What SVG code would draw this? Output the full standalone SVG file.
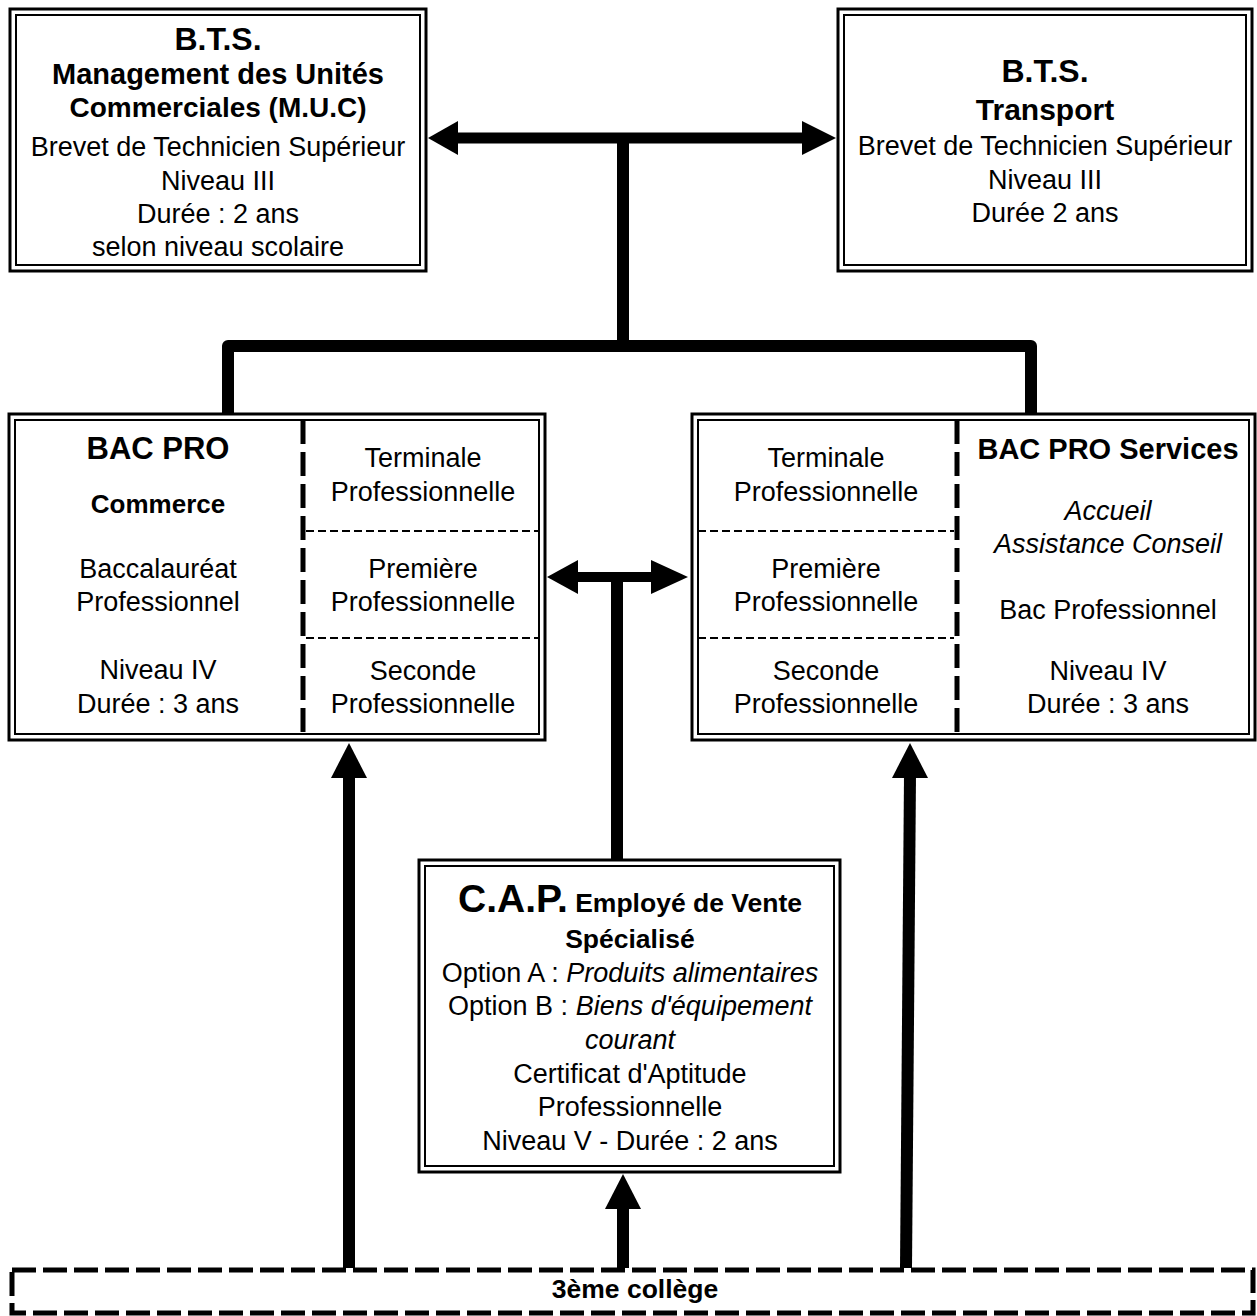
<svg xmlns="http://www.w3.org/2000/svg" width="1257" height="1316" viewBox="0 0 1257 1316">
<style>
text{font-family:"Liberation Sans",Arial,sans-serif;font-size:27px;fill:#000;text-anchor:middle}
.b{font-weight:bold}
.i{font-style:italic}
.t{font-size:30px}
.bts{font-size:32px}
.outer{fill:#fff;stroke:#000;stroke-width:3}
.inner{fill:none;stroke:#000;stroke-width:2}
.vdiv{stroke:#000;stroke-width:5;stroke-dasharray:24 8}
.hdiv{stroke:#000;stroke-width:2;stroke-dasharray:8 4}
.conn{fill:none;stroke:#000;stroke-width:12;stroke-linejoin:round}
.head{fill:#000}
</style>
<rect width="1257" height="1316" fill="#fff"/>

<g id="connectors">
  <line x1="455" y1="138" x2="804" y2="138" stroke="#000" stroke-width="11"/>
  <polygon class="head" points="428,138 458,121 458,155"/>
  <polygon class="head" points="836,138 802,121 802,155"/>
  <path class="conn" d="M623,138 V346"/>
  <path class="conn" d="M228,414 V346 H1031 V414"/>
  <line x1="576" y1="577" x2="653" y2="577" stroke="#000" stroke-width="10"/>
  <polygon class="head" points="547,577 578,560 578,594"/>
  <polygon class="head" points="688,577 651,560 651,594"/>
  <path class="conn" d="M617,577 V860"/>
  <line x1="349" y1="1268" x2="349" y2="775" stroke="#000" stroke-width="12"/>
  <polygon class="head" points="349,743 331,778 367,778"/>
  <line x1="623" y1="1268" x2="623" y2="1206" stroke="#000" stroke-width="12"/>
  <polygon class="head" points="623,1174 605,1209 641,1209"/>
  <line x1="906" y1="1268" x2="910" y2="775" stroke="#000" stroke-width="12"/>
  <polygon class="head" points="910,743 892,778 928,778"/>
</g>

<g id="bts-muc">
  <rect class="outer" x="10" y="9" width="416" height="262"/>
  <rect class="inner" x="16" y="15" width="404" height="250"/>
  <text class="b bts" x="218" y="50">B.T.S.</text>
  <text class="b" x="218" y="84" style="font-size:29px">Management des Unités</text>
  <text class="b" x="218" y="117" style="font-size:28px">Commerciales (M.U.C)</text>
  <text x="218" y="156">Brevet de Technicien Supérieur</text>
  <text x="218" y="190">Niveau III</text>
  <text x="218" y="223">Durée : 2 ans</text>
  <text x="218" y="256">selon niveau scolaire</text>
</g>

<g id="bts-transport">
  <rect class="outer" x="838" y="9" width="414" height="262"/>
  <rect class="inner" x="844" y="15" width="402" height="250"/>
  <text class="b bts" x="1045" y="82">B.T.S.</text>
  <text class="b t" x="1045" y="120">Transport</text>
  <text x="1045" y="155">Brevet de Technicien Supérieur</text>
  <text x="1045" y="189">Niveau III</text>
  <text x="1045" y="222">Durée 2 ans</text>
</g>

<g id="bac-commerce">
  <rect class="outer" x="9" y="414" width="536" height="326"/>
  <rect class="inner" x="15" y="420" width="524" height="314"/>
  <line class="vdiv" x1="303" y1="420" x2="303" y2="734"/>
  <line class="hdiv" x1="306" y1="531" x2="539" y2="531"/>
  <line class="hdiv" x1="306" y1="638" x2="539" y2="638"/>
  <text class="b" x="158" y="459" style="font-size:31px">BAC PRO</text>
  <text class="b" x="158" y="513" style="font-size:26px">Commerce</text>
  <text x="158" y="578">Baccalauréat</text>
  <text x="158" y="611">Professionnel</text>
  <text x="158" y="679">Niveau IV</text>
  <text x="158" y="713">Durée : 3 ans</text>
  <text x="423" y="467">Terminale</text>
  <text x="423" y="501">Professionnelle</text>
  <text x="423" y="578">Première</text>
  <text x="423" y="611">Professionnelle</text>
  <text x="423" y="680">Seconde</text>
  <text x="423" y="713">Professionnelle</text>
</g>

<g id="bac-services">
  <rect class="outer" x="692" y="414" width="563" height="326"/>
  <rect class="inner" x="698" y="420" width="551" height="314"/>
  <line class="vdiv" x1="957" y1="420" x2="957" y2="734"/>
  <line class="hdiv" x1="698" y1="531" x2="954" y2="531"/>
  <line class="hdiv" x1="698" y1="638" x2="954" y2="638"/>
  <text x="826" y="467">Terminale</text>
  <text x="826" y="501">Professionnelle</text>
  <text x="826" y="578">Première</text>
  <text x="826" y="611">Professionnelle</text>
  <text x="826" y="680">Seconde</text>
  <text x="826" y="713">Professionnelle</text>
  <text class="b" x="1108" y="459" style="font-size:29px">BAC PRO Services</text>
  <text class="i" x="1108" y="520">Accueil</text>
  <text class="i" x="1108" y="553">Assistance Conseil</text>
  <text x="1108" y="619">Bac Professionnel</text>
  <text x="1108" y="680">Niveau IV</text>
  <text x="1108" y="713">Durée : 3 ans</text>
</g>

<g id="cap">
  <rect class="outer" x="419" y="860" width="421" height="312"/>
  <rect class="inner" x="425" y="866" width="409" height="300"/>
  <text class="b" x="630" y="912" style="font-size:26.5px"><tspan style="font-size:39px">C.A.P.</tspan> Employé de Vente</text>
  <text class="b" x="630" y="948" style="font-size:26.5px">Spécialisé</text>
  <text x="630" y="982">Option A : <tspan class="i">Produits alimentaires</tspan></text>
  <text x="630" y="1015">Option B : <tspan class="i">Biens d'équipement</tspan></text>
  <text class="i" x="630" y="1049">courant</text>
  <text x="630" y="1083">Certificat d'Aptitude</text>
  <text x="630" y="1116">Professionnelle</text>
  <text x="630" y="1150">Niveau V - Durée : 2 ans</text>
</g>

<g id="college">
  <rect x="12" y="1270" width="1241" height="43" fill="none" stroke="#000" stroke-width="5" stroke-dasharray="24 7"/>
  <text class="b" x="635" y="1298" style="font-size:26.5px">3ème collège</text>
</g>
</svg>
